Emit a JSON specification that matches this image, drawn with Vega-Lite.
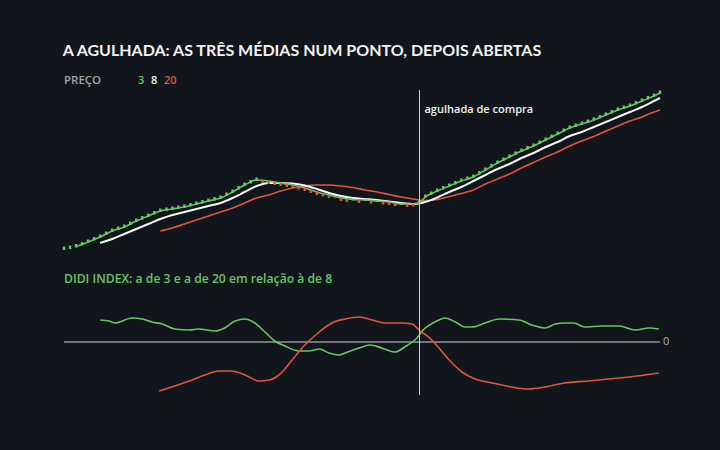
{
  "$schema": "https://vega.github.io/schema/vega-lite/v6.json",
  "background": "#11151c",
  "padding": {"left": 62, "right": 62, "top": 42, "bottom": 60},
  "title": {
    "text": "A AGULHADA: AS TRÊS MÉDIAS NUM PONTO, DEPOIS ABERTAS",
    "anchor": "start",
    "color": "#f2f2f2",
    "font": "Lato",
    "fontSize": 16,
    "fontWeight": "bold",
    "offset": 16
  },
  "config": {
    "view": {"stroke": null},
    "font": "Lato",
    "axis": {"disable": true}
  },
  "spacing": 0,
  "bounds": "flush",
  "resolve": {"scale": {"color": "independent"}},
  "datasets": {
    "candles": [
      {"t":0,"o":5.0,"c":5.35},{"t":1,"o":5.1,"c":5.45},{"t":2,"o":5.25,"c":5.6},{"t":3,"o":5.45,"c":5.8},
      {"t":4,"o":5.7,"c":6.05},{"t":5,"o":5.95,"c":6.3},{"t":6,"o":6.2,"c":6.55},{"t":7,"o":6.5,"c":6.85},
      {"t":8,"o":6.8,"c":7.15},{"t":9,"o":7.0,"c":7.35},{"t":10,"o":7.2,"c":7.55},{"t":11,"o":7.5,"c":7.85},
      {"t":12,"o":7.8,"c":8.15},{"t":13,"o":8.05,"c":8.4},{"t":14,"o":8.3,"c":8.65},{"t":15,"o":8.55,"c":8.9},
      {"t":16,"o":8.8,"c":9.15},{"t":17,"o":8.9,"c":9.25},{"t":18,"o":9.0,"c":9.35},{"t":19,"o":9.1,"c":9.45},
      {"t":20,"o":9.2,"c":9.55},{"t":21,"o":9.35,"c":9.7},{"t":22,"o":9.5,"c":9.85},{"t":23,"o":9.65,"c":10.0},
      {"t":24,"o":9.8,"c":10.15},{"t":25,"o":9.95,"c":10.3},{"t":26,"o":10.1,"c":10.45},{"t":27,"o":10.4,"c":10.75},
      {"t":28,"o":10.7,"c":11.05},{"t":29,"o":11.05,"c":11.4},{"t":30,"o":11.4,"c":11.75},{"t":31,"o":11.65,"c":12.0},
      {"t":32,"o":11.9,"c":12.25},{"t":33,"o":12.0,"c":11.7},{"t":34,"o":11.9,"c":11.6},{"t":35,"o":11.8,"c":11.5},
      {"t":36,"o":11.7,"c":11.4},{"t":37,"o":11.6,"c":11.3},{"t":38,"o":11.5,"c":11.2},{"t":39,"o":11.35,"c":11.05},
      {"t":40,"o":11.2,"c":10.9},{"t":41,"o":11.0,"c":10.7},{"t":42,"o":10.8,"c":10.5},{"t":43,"o":10.65,"c":10.35},
      {"t":44,"o":10.5,"c":10.2},{"t":45,"o":10.25,"c":10.4},{"t":46,"o":10.2,"c":9.9},{"t":47,"o":10.1,"c":9.8},
      {"t":48,"o":9.95,"c":10.1},{"t":49,"o":10.0,"c":9.7},{"t":50,"o":9.9,"c":10.05},{"t":51,"o":9.95,"c":9.65},
      {"t":52,"o":9.8,"c":9.95},{"t":53,"o":9.85,"c":9.55},{"t":54,"o":9.8,"c":9.5},{"t":55,"o":9.7,"c":9.4},
      {"t":56,"o":9.5,"c":9.65},{"t":57,"o":9.6,"c":9.3},{"t":58,"o":9.6,"c":9.35},{"t":59,"o":9.6,"c":9.95},
      {"t":60,"o":10.2,"c":10.55},{"t":61,"o":10.5,"c":10.85},{"t":62,"o":10.8,"c":11.15},{"t":63,"o":11.05,"c":11.4},
      {"t":64,"o":11.3,"c":11.65},{"t":65,"o":11.55,"c":11.9},{"t":66,"o":11.8,"c":12.15},{"t":67,"o":12.0,"c":12.35},
      {"t":68,"o":12.2,"c":12.55},{"t":69,"o":12.55,"c":12.9},{"t":70,"o":12.9,"c":13.25},{"t":71,"o":13.25,"c":13.6},
      {"t":72,"o":13.6,"c":13.95},{"t":73,"o":13.9,"c":14.25},{"t":74,"o":14.2,"c":14.55},{"t":75,"o":14.5,"c":14.85},
      {"t":76,"o":14.8,"c":15.15},{"t":77,"o":15.05,"c":15.4},{"t":78,"o":15.3,"c":15.65},{"t":79,"o":15.6,"c":15.95},
      {"t":80,"o":15.9,"c":16.25},{"t":81,"o":16.2,"c":16.55},{"t":82,"o":16.5,"c":16.85},{"t":83,"o":16.8,"c":17.15},
      {"t":84,"o":17.1,"c":17.45},{"t":85,"o":17.3,"c":17.65},{"t":86,"o":17.5,"c":17.85},{"t":87,"o":17.7,"c":18.05},
      {"t":88,"o":17.9,"c":18.25},{"t":89,"o":18.15,"c":18.5},{"t":90,"o":18.4,"c":18.75},{"t":91,"o":18.65,"c":19.0},
      {"t":92,"o":18.9,"c":19.25},{"t":93,"o":19.1,"c":19.45},{"t":94,"o":19.3,"c":19.65},{"t":95,"o":19.55,"c":19.9},
      {"t":96,"o":19.8,"c":20.15},{"t":97,"o":20.05,"c":20.4},{"t":98,"o":20.3,"c":20.65},{"t":99,"o":20.6,"c":20.95}
    ],
    "ma": [
      {"t":16,"s":"20","v":6.9},{"t":18,"s":"20","v":7.2},{"t":20,"s":"20","v":7.6},{"t":22,"s":"20","v":8.0},
      {"t":24,"s":"20","v":8.4},{"t":26,"s":"20","v":8.8},{"t":28,"s":"20","v":9.2},{"t":30,"s":"20","v":9.7},
      {"t":32,"s":"20","v":10.2},{"t":34,"s":"20","v":10.5},{"t":36,"s":"20","v":10.9},{"t":38,"s":"20","v":11.2},
      {"t":40,"s":"20","v":11.4},{"t":42,"s":"20","v":11.5},{"t":44,"s":"20","v":11.5},{"t":46,"s":"20","v":11.4},
      {"t":48,"s":"20","v":11.25},{"t":50,"s":"20","v":11.0},{"t":52,"s":"20","v":10.8},{"t":54,"s":"20","v":10.55},
      {"t":56,"s":"20","v":10.3},{"t":58,"s":"20","v":10.1},{"t":60,"s":"20","v":9.95},{"t":62,"s":"20","v":10.05},
      {"t":64,"s":"20","v":10.35},{"t":66,"s":"20","v":10.65},{"t":68,"s":"20","v":11.0},{"t":70,"s":"20","v":11.6},
      {"t":72,"s":"20","v":12.1},{"t":74,"s":"20","v":12.6},{"t":76,"s":"20","v":13.2},{"t":78,"s":"20","v":13.75},
      {"t":80,"s":"20","v":14.3},{"t":82,"s":"20","v":14.8},{"t":84,"s":"20","v":15.4},{"t":86,"s":"20","v":15.9},
      {"t":88,"s":"20","v":16.35},{"t":90,"s":"20","v":16.9},{"t":92,"s":"20","v":17.4},{"t":94,"s":"20","v":17.9},
      {"t":96,"s":"20","v":18.3},{"t":98,"s":"20","v":18.8},{"t":99,"s":"20","v":19.0},
      {"t":6,"s":"8","v":5.7},{"t":8,"s":"8","v":6.1},{"t":10,"s":"8","v":6.6},{"t":12,"s":"8","v":7.1},
      {"t":14,"s":"8","v":7.6},{"t":16,"s":"8","v":8.1},{"t":18,"s":"8","v":8.5},{"t":20,"s":"8","v":8.8},
      {"t":22,"s":"8","v":9.1},{"t":24,"s":"8","v":9.4},{"t":26,"s":"8","v":9.7},{"t":28,"s":"8","v":10.2},
      {"t":30,"s":"8","v":10.8},{"t":32,"s":"8","v":11.4},{"t":34,"s":"8","v":11.7},{"t":36,"s":"8","v":11.7},
      {"t":38,"s":"8","v":11.65},{"t":40,"s":"8","v":11.45},{"t":42,"s":"8","v":11.1},{"t":44,"s":"8","v":10.7},
      {"t":46,"s":"8","v":10.4},{"t":48,"s":"8","v":10.2},{"t":50,"s":"8","v":10.1},{"t":52,"s":"8","v":10.0},
      {"t":54,"s":"8","v":9.85},{"t":56,"s":"8","v":9.7},{"t":58,"s":"8","v":9.6},{"t":60,"s":"8","v":9.8},
      {"t":62,"s":"8","v":10.25},{"t":64,"s":"8","v":10.8},{"t":66,"s":"8","v":11.3},{"t":68,"s":"8","v":11.9},
      {"t":70,"s":"8","v":12.5},{"t":72,"s":"8","v":13.1},{"t":74,"s":"8","v":13.6},{"t":76,"s":"8","v":14.2},
      {"t":78,"s":"8","v":14.7},{"t":80,"s":"8","v":15.3},{"t":82,"s":"8","v":15.8},{"t":84,"s":"8","v":16.4},
      {"t":86,"s":"8","v":16.8},{"t":88,"s":"8","v":17.3},{"t":90,"s":"8","v":17.8},{"t":92,"s":"8","v":18.3},
      {"t":94,"s":"8","v":18.8},{"t":96,"s":"8","v":19.3},{"t":98,"s":"8","v":19.9},{"t":99,"s":"8","v":20.2},
      {"t":2,"s":"3","v":5.35},{"t":4,"s":"3","v":5.8},{"t":6,"s":"3","v":6.3},{"t":8,"s":"3","v":6.9},
      {"t":10,"s":"3","v":7.3},{"t":12,"s":"3","v":7.9},{"t":14,"s":"3","v":8.4},{"t":16,"s":"3","v":8.9},
      {"t":18,"s":"3","v":9.1},{"t":20,"s":"3","v":9.3},{"t":22,"s":"3","v":9.6},{"t":24,"s":"3","v":9.9},
      {"t":26,"s":"3","v":10.2},{"t":28,"s":"3","v":10.8},{"t":30,"s":"3","v":11.5},{"t":32,"s":"3","v":12.0},
      {"t":34,"s":"3","v":11.9},{"t":36,"s":"3","v":11.7},{"t":38,"s":"3","v":11.5},{"t":40,"s":"3","v":11.2},
      {"t":42,"s":"3","v":10.8},{"t":44,"s":"3","v":10.5},{"t":46,"s":"3","v":10.2},{"t":48,"s":"3","v":10.05},
      {"t":50,"s":"3","v":10.0},{"t":52,"s":"3","v":9.9},{"t":54,"s":"3","v":9.8},{"t":56,"s":"3","v":9.6},
      {"t":58,"s":"3","v":9.6},{"t":59,"s":"3","v":9.7},{"t":60,"s":"3","v":10.3},{"t":62,"s":"3","v":10.9},
      {"t":64,"s":"3","v":11.4},{"t":66,"s":"3","v":11.9},{"t":68,"s":"3","v":12.3},{"t":70,"s":"3","v":13.0},
      {"t":72,"s":"3","v":13.7},{"t":74,"s":"3","v":14.3},{"t":76,"s":"3","v":14.9},{"t":78,"s":"3","v":15.4},
      {"t":80,"s":"3","v":16.0},{"t":82,"s":"3","v":16.6},{"t":84,"s":"3","v":17.2},{"t":86,"s":"3","v":17.6},
      {"t":88,"s":"3","v":18.0},{"t":90,"s":"3","v":18.5},{"t":92,"s":"3","v":19.0},{"t":94,"s":"3","v":19.4},
      {"t":96,"s":"3","v":19.9},{"t":98,"s":"3","v":20.4},{"t":99,"s":"3","v":20.7}
    ],
    "didi": [
      {"t":6.0,"s":"3","v":2.2},{"t":7.5,"s":"3","v":2.1},{"t":8.5,"s":"3","v":1.9},{"t":11.3,"s":"3","v":2.4},
      {"t":13.0,"s":"3","v":2.3},{"t":14.6,"s":"3","v":2.0},{"t":16.3,"s":"3","v":1.8},{"t":18.4,"s":"3","v":1.3},
      {"t":20.8,"s":"3","v":1.2},{"t":22.4,"s":"3","v":1.3},{"t":25.1,"s":"3","v":1.1},{"t":26.7,"s":"3","v":1.4},
      {"t":28.4,"s":"3","v":2.1},{"t":30.1,"s":"3","v":2.3},{"t":31.7,"s":"3","v":1.9},{"t":33.4,"s":"3","v":1.0},
      {"t":35.0,"s":"3","v":0.1},{"t":36.7,"s":"3","v":-0.4},{"t":39.0,"s":"3","v":-0.9},{"t":40.7,"s":"3","v":-0.9},
      {"t":42.4,"s":"3","v":-0.7},{"t":44.0,"s":"3","v":-1.1},{"t":45.7,"s":"3","v":-1.3},{"t":46.7,"s":"3","v":-1.1},
      {"t":49.0,"s":"3","v":-0.6},{"t":50.8,"s":"3","v":-0.3},{"t":52.8,"s":"3","v":-0.6},{"t":55.0,"s":"3","v":-1.0},
      {"t":56.6,"s":"3","v":-0.5},{"t":58.3,"s":"3","v":0.2},{"t":60.0,"s":"3","v":1.4},{"t":61.6,"s":"3","v":2.0},
      {"t":63.3,"s":"3","v":2.4},{"t":65.0,"s":"3","v":2.0},{"t":66.6,"s":"3","v":1.5},{"t":67.8,"s":"3","v":1.5},
      {"t":69.9,"s":"3","v":1.9},{"t":72.3,"s":"3","v":2.3},{"t":75.6,"s":"3","v":2.2},{"t":77.7,"s":"3","v":1.7},
      {"t":79.9,"s":"3","v":1.4},{"t":81.6,"s":"3","v":1.8},{"t":83.2,"s":"3","v":1.9},{"t":84.7,"s":"3","v":1.9},
      {"t":86.5,"s":"3","v":1.5},{"t":89.4,"s":"3","v":1.6},{"t":92.2,"s":"3","v":1.6},{"t":94.9,"s":"3","v":1.2},
      {"t":97.2,"s":"3","v":1.4},{"t":98.8,"s":"3","v":1.3},
      {"t":15.8,"s":"20","v":-4.9},{"t":18.4,"s":"20","v":-4.4},{"t":21.3,"s":"20","v":-3.8},{"t":23.4,"s":"20","v":-3.3},
      {"t":25.7,"s":"20","v":-2.9},{"t":27.9,"s":"20","v":-2.9},{"t":30.1,"s":"20","v":-3.3},{"t":32.4,"s":"20","v":-3.9},
      {"t":34.1,"s":"20","v":-3.8},{"t":35.7,"s":"20","v":-3.3},{"t":37.9,"s":"20","v":-1.8},{"t":40.0,"s":"20","v":-0.3},
      {"t":42.4,"s":"20","v":1.0},{"t":44.5,"s":"20","v":1.9},{"t":46.7,"s":"20","v":2.3},{"t":49.0,"s":"20","v":2.5},
      {"t":51.2,"s":"20","v":2.2},{"t":53.3,"s":"20","v":1.9},{"t":56.1,"s":"20","v":1.9},{"t":57.8,"s":"20","v":1.8},
      {"t":59.0,"s":"20","v":1.2},{"t":61.1,"s":"20","v":0.2},{"t":62.0,"s":"20","v":-0.4},{"t":64.0,"s":"20","v":-1.8},
      {"t":66.1,"s":"20","v":-3.0},{"t":68.3,"s":"20","v":-3.7},{"t":71.1,"s":"20","v":-4.1},{"t":74.4,"s":"20","v":-4.5},
      {"t":77.2,"s":"20","v":-4.7},{"t":79.9,"s":"20","v":-4.5},{"t":83.2,"s":"20","v":-4.1},{"t":87.2,"s":"20","v":-3.9},
      {"t":90.5,"s":"20","v":-3.7},{"t":93.9,"s":"20","v":-3.5},{"t":98.8,"s":"20","v":-3.1}
    ]
  },
  "vconcat": [
    {
      "width": 596,
      "height": 175,
      "layer": [
        {
          "data": {"name": "ma"},
          "mark": {"type": "line", "interpolate": "monotone"},
          "encoding": {
            "x": {"field": "t", "type": "quantitative", "scale": {"domain": [0, 99], "nice": false, "zero": false}, "axis": null},
            "y": {"field": "v", "type": "quantitative", "scale": {"domain": [3.5, 21], "nice": false, "zero": false}, "axis": null},
            "color": {
              "field": "s",
              "type": "nominal",
              "scale": {"domain": ["3", "8", "20"], "range": ["#66c566", "#f5f5f5", "#e0553f"]},
              "legend": null
            },
            "strokeWidth": {"condition": {"test": "datum.s === '8'", "value": 2}, "value": 1.6}
          }
        },
        {
          "data": {"name": "candles"},
          "mark": {"type": "rule", "strokeWidth": 2.5},
          "encoding": {
            "x": {"field": "t", "type": "quantitative", "axis": null},
            "y": {"field": "o", "type": "quantitative", "axis": null},
            "y2": {"field": "c"},
            "color": {"condition": {"test": "datum.c >= datum.o", "value": "#66c566"}, "value": "#e0553f"}
          }
        },
        {
          "data": {"values": [{}]},
          "mark": {"type": "rule", "color": "#cdd0cb", "strokeWidth": 1},
          "encoding": {
            "x": {"datum": 59.05, "type": "quantitative"},
            "y": {"datum": 21, "type": "quantitative"},
            "y2": {"datum": 2.5}
          }
        },
        {
          "data": {"values": [{}]},
          "mark": {"type": "text", "text": "agulhada de compra", "align": "left", "baseline": "middle", "dx": 5, "color": "#f0f0f0", "font": "Open Sans", "fontSize": 11, "fontWeight": 600},
          "encoding": {
            "x": {"datum": 59.05, "type": "quantitative"},
            "y": {"datum": 19, "type": "quantitative"}
          }
        },
        {
          "data": {"values": [{}]},
          "mark": {"type": "text", "text": "PREÇO", "align": "left", "baseline": "middle", "color": "#a3a3a3", "font": "Open Sans", "fontSize": 11.5, "fontWeight": 600},
          "encoding": {
            "x": {"datum": 0, "type": "quantitative"},
            "y": {"datum": 21.95, "type": "quantitative"}
          }
        },
        {
          "data": {"values": [{}]},
          "mark": {"type": "text", "text": "3", "align": "left", "baseline": "middle", "color": "#66c566", "font": "Open Sans", "fontSize": 11, "fontWeight": 600},
          "encoding": {
            "x": {"datum": 12.3, "type": "quantitative"},
            "y": {"datum": 21.95, "type": "quantitative"}
          }
        },
        {
          "data": {"values": [{}]},
          "mark": {"type": "text", "text": "8", "align": "left", "baseline": "middle", "color": "#f5f5f5", "font": "Open Sans", "fontSize": 11, "fontWeight": 600},
          "encoding": {
            "x": {"datum": 14.45, "type": "quantitative"},
            "y": {"datum": 21.95, "type": "quantitative"}
          }
        },
        {
          "data": {"values": [{}]},
          "mark": {"type": "text", "text": "20", "align": "left", "baseline": "middle", "color": "#e0553f", "font": "Open Sans", "fontSize": 11, "fontWeight": 600},
          "encoding": {
            "x": {"datum": 16.6, "type": "quantitative"},
            "y": {"datum": 21.95, "type": "quantitative"}
          }
        }
      ]
    },
    {
      "width": 596,
      "height": 130,
      "layer": [
        {
          "data": {"values": [{}]},
          "mark": {"type": "rule", "color": "#8f9296", "strokeWidth": 1.5},
          "encoding": {"y": {"datum": 0, "type": "quantitative", "scale": {"domain": [-5.3, 7.7], "nice": false, "zero": false}, "axis": null}}
        },
        {
          "data": {"name": "didi"},
          "mark": {"type": "line", "interpolate": "monotone", "strokeWidth": 1.6},
          "encoding": {
            "x": {"field": "t", "type": "quantitative", "scale": {"domain": [0, 99], "nice": false, "zero": false}, "axis": null},
            "y": {"field": "v", "type": "quantitative", "axis": null},
            "color": {"field": "s", "type": "nominal", "scale": {"domain": ["3", "20"], "range": ["#66c566", "#e0553f"]}, "legend": null}
          }
        },
        {
          "data": {"values": [{}]},
          "mark": {"type": "rule", "color": "#cdd0cb", "strokeWidth": 1},
          "encoding": {
            "x": {"datum": 59.05, "type": "quantitative"},
            "y": {"datum": 8.7, "type": "quantitative"},
            "y2": {"datum": -5.3}
          }
        },
        {
          "data": {"values": [{}]},
          "mark": {"type": "text", "text": "DIDI INDEX: a de 3 e a de 20 em relação à de 8", "align": "left", "baseline": "middle", "color": "#66c566", "font": "Open Sans", "fontSize": 12.2, "fontWeight": 600},
          "encoding": {
            "x": {"datum": 0, "type": "quantitative"},
            "y": {"datum": 6.3, "type": "quantitative"}
          }
        },
        {
          "data": {"values": [{}]},
          "mark": {"type": "text", "text": "0", "align": "left", "baseline": "middle", "dx": 3, "color": "#b0b0b0", "font": "Open Sans", "fontSize": 11},
          "encoding": {
            "x": {"datum": 99, "type": "quantitative"},
            "y": {"datum": 0, "type": "quantitative"}
          }
        }
      ]
    }
  ]
}
